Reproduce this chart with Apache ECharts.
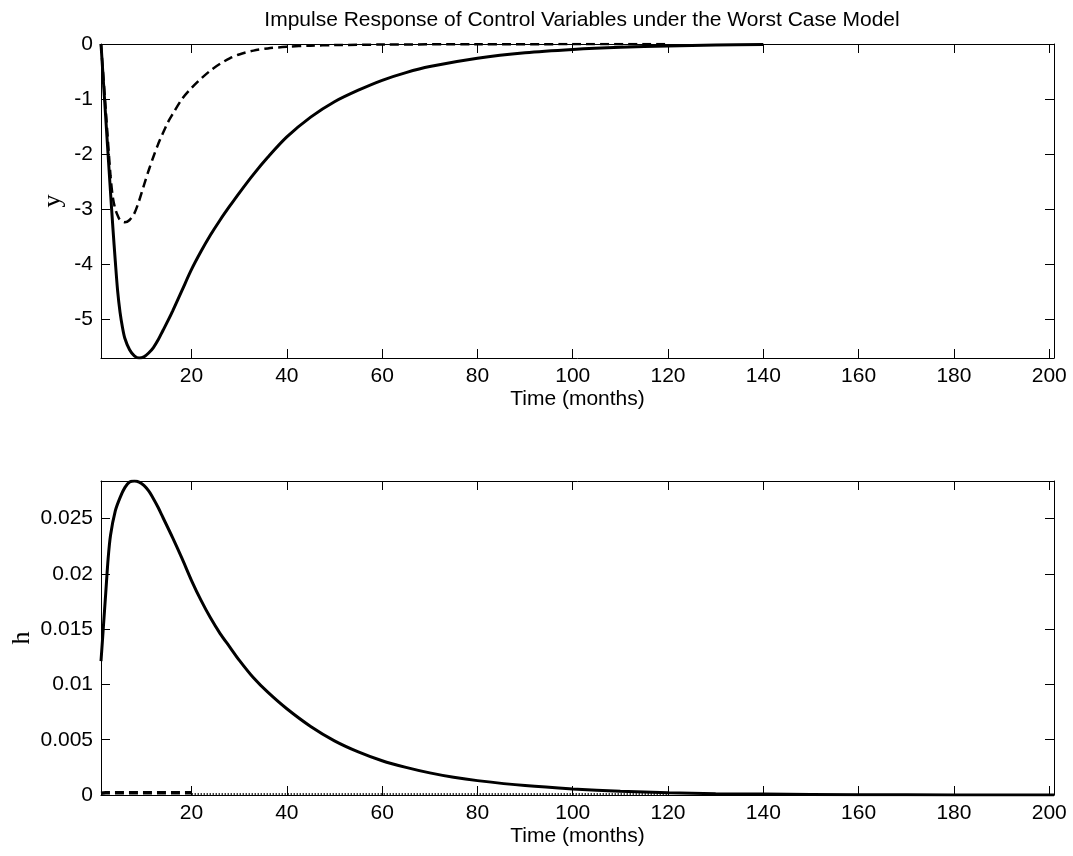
<!DOCTYPE html>
<html>
<head>
<meta charset="utf-8">
<script src="https://cdn.jsdelivr.net/npm/echarts@6/dist/echarts.min.js"></script>
<style>
html,body{margin:0;padding:0;background:#fff;}
#chart{width:1073px;height:856px;}
</style>
</head>
<body>
<div id="chart"></div>
<script>
// ---- Data ----
var titleText = 'Impulse Response of Control Variables under the Worst Case Model';
var xTicks = [20, 40, 60, 80, 100, 120, 140, 160, 180, 200];
var yTicksTop = [-5, -4, -3, -2, -1, 0];
var yTicksBottom = [0, 0.005, 0.01, 0.015, 0.02, 0.025];

// top panel (y): solid line
var tYSolid = [1, 2, 3, 3.5, 4, 4.5, 5, 5.5, 6, 7, 8, 9, 10, 11, 12, 13, 14, 15, 16, 18, 20, 22, 24, 26, 28, 30, 33, 36, 40, 45, 50, 55, 60, 65, 70, 80, 90, 100, 110, 120, 130, 140];
var ySolid  = [0, -1.35, -2.7, -3.35, -3.95, -4.5, -4.88, -5.15, -5.35, -5.56, -5.67, -5.71, -5.69, -5.62, -5.52, -5.38, -5.21, -5.04, -4.86, -4.48, -4.1, -3.77, -3.47, -3.2, -2.95, -2.71, -2.37, -2.06, -1.69, -1.33, -1.05, -0.84, -0.66, -0.52, -0.41, -0.26, -0.16, -0.1, -0.06, -0.035, -0.02, -0.01];
// top panel (y): dashed line
var tYDashed = [1, 2, 3, 3.5, 4, 4.5, 5, 6, 7, 8, 9, 10, 11, 12, 13, 14, 15, 16, 18, 20, 22, 24, 26, 28, 30, 33, 36, 40, 45, 50, 60, 80, 100, 120];
var yDashed  = [0, -1.2, -2.4, -2.8, -3.0, -3.12, -3.2, -3.24, -3.2, -3.08, -2.85, -2.57, -2.3, -2.05, -1.82, -1.62, -1.43, -1.28, -1.0, -0.8, -0.63, -0.48, -0.36, -0.26, -0.19, -0.12, -0.08, -0.05, -0.03, -0.02, -0.01, -0.004, -0.002, -0.001];

// bottom panel (h): solid line
var tHSolid = [1, 1.5, 2, 2.5, 3, 4, 5, 6, 7, 8, 9, 10, 11, 12, 13, 14, 16, 18, 20, 22, 24, 26, 28, 30, 33, 36, 40, 45, 50, 55, 60, 65, 70, 75, 80, 90, 100, 110, 120, 130, 140, 160, 180, 201];
var hSolid  = [0.0121, 0.0152, 0.0183, 0.0214, 0.0235, 0.0257, 0.0269, 0.0278, 0.0283, 0.0284, 0.0283, 0.028, 0.0275, 0.0268, 0.026, 0.0251, 0.0233, 0.0214, 0.0194, 0.0176, 0.016, 0.0146, 0.0134, 0.0122, 0.0106, 0.0093, 0.0078, 0.0062, 0.0049, 0.0039, 0.0031, 0.0025, 0.002, 0.0016, 0.0013, 0.00085, 0.00055, 0.00034, 0.0002, 0.00012, 0.00008, 0.00003, 0.00001, 0];
// bottom panel (h): dashed and dotted lines near zero
var tHDashed = [1, 2, 5, 10, 15, 20];
var hDashed  = [0.00015, 0.0002, 0.0002, 0.0002, 0.0002, 0.0002];
var tHDotted = [20, 40, 60, 80, 100, 120];
var hDotted  = [0.0001, 0.0001, 0.0001, 0.0001, 0.0001, 0.0001];

function pairs(xs, ys){ return xs.map(function(x,i){ return [x, ys[i]]; }); }

var FONT = 'Liberation Sans';
var LBL = {fontFamily: FONT, fontSize: 21, color: '#000'};

function xAx(gridIndex, bottom){
  return {
    type: 'value', gridIndex: gridIndex, min: 1, max: 201,
    position: bottom ? 'bottom' : 'top',
    name: bottom ? 'Time (months)' : '',
    nameLocation: 'middle', nameGap: 31, nameMoveOverlap: false,
    nameTextStyle: {fontFamily: FONT, fontSize: 21, color: '#000'},
    axisLine: {show: true, onZero: false, lineStyle: {color: '#000', width: 1}},
    axisTick: {show: true, inside: true, length: 9, customValues: xTicks, lineStyle: {color: '#000'}},
    axisLabel: bottom ? Object.assign({show: true, margin: 8, customValues: xTicks}, LBL) : {show: false},
    splitLine: {show: false}
  };
}
function yAx(gridIndex, left, mn, mx, ticks, name, gap){
  return {
    type: 'value', gridIndex: gridIndex, min: mn, max: mx,
    position: left ? 'left' : 'right',
    name: left ? name : '',
    nameLocation: 'middle', nameGap: gap, nameRotate: 90, nameMoveOverlap: false,
    nameTextStyle: {fontFamily: 'Liberation Serif', fontSize: 26, color: '#000'},
    axisLine: {show: true, onZero: false, lineStyle: {color: '#000', width: 1}},
    axisTick: {show: true, inside: true, length: 9, customValues: ticks, lineStyle: {color: '#000'}},
    axisLabel: left ? Object.assign({show: true, margin: 8, customValues: ticks}, LBL) : {show: false},
    splitLine: {show: false}
  };
}

var chart = echarts.init(document.getElementById('chart'), null, {renderer: 'canvas'});
chart.setOption({
  animation: false,
  backgroundColor: '#fff',
  title: {
    text: titleText, left: 577, top: 5, textAlign: 'center',
    textStyle: {fontFamily: FONT, fontSize: 21, fontWeight: 'normal', color: '#000'}
  },
  grid: [
    {left: 101, top: 44, width: 953, height: 314},
    {left: 101, top: 481, width: 953, height: 314}
  ],
  xAxis: [xAx(0, true), xAx(0, false), xAx(1, true), xAx(1, false)],
  yAxis: [
    yAx(0, true, -5.71, 0, yTicksTop, 'y', 35),
    yAx(0, false, -5.71, 0, yTicksTop, '', 0),
    yAx(1, true, 0, 0.0284, yTicksBottom, 'h', 66),
    yAx(1, false, 0, 0.0284, yTicksBottom, '', 0)
  ],
  series: [
    {type: 'line', xAxisIndex: 0, yAxisIndex: 0, data: pairs(tYSolid, ySolid), smooth: 0.3, showSymbol: false,
     lineStyle: {color: '#000', width: 3}},
    {type: 'line', xAxisIndex: 0, yAxisIndex: 0, data: pairs(tYDashed, yDashed), smooth: 0.3, showSymbol: false,
     lineStyle: {color: '#000', width: 2.5, type: [9, 5]}},
    {type: 'line', xAxisIndex: 2, yAxisIndex: 2, data: pairs(tHSolid, hSolid), smooth: 0.3, showSymbol: false,
     lineStyle: {color: '#000', width: 3}},
    {type: 'line', xAxisIndex: 2, yAxisIndex: 2, data: pairs(tHDashed, hDashed), showSymbol: false,
     lineStyle: {color: '#000', width: 3.5, type: [9, 5]}},
    {type: 'line', xAxisIndex: 2, yAxisIndex: 2, data: pairs(tHDotted, hDotted), showSymbol: false,
     lineStyle: {color: '#000', width: 1.5, type: [1.5, 1.5]}}
  ]
});
</script>
</body>
</html>
